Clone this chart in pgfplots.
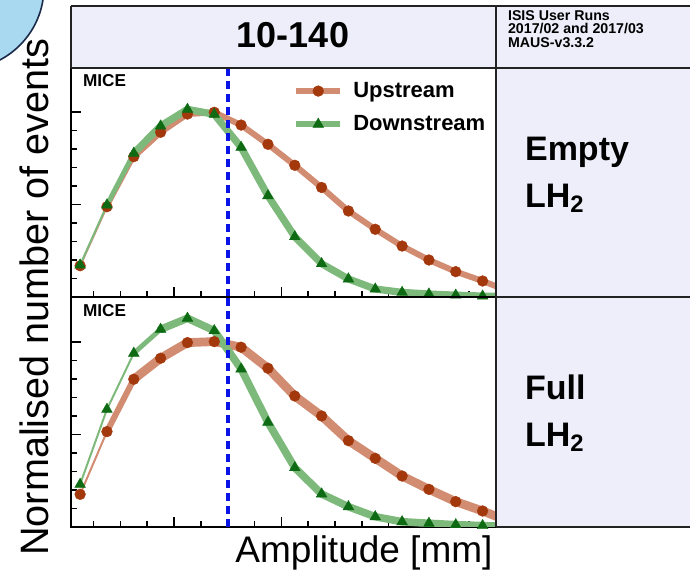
\documentclass[border=0pt]{standalone}
\usepackage{pgfplots}
\pgfplotsset{compat=1.18}
\usepackage{fontspec}
\setmainfont{Liberation Sans}
\definecolor{BandU}{HTML}{D28C72}
\definecolor{MarkU}{HTML}{A3380C}
\definecolor{BandD}{HTML}{7DB97B}
\definecolor{MarkD}{HTML}{0E6B14}
\definecolor{Lav}{HTML}{EEEEFB}
\definecolor{Frame}{HTML}{222222}
\definecolor{CutBlue}{HTML}{0A14E6}
\definecolor{LogoFill}{HTML}{A9D8F1}
\definecolor{LogoLine}{HTML}{1B2A48}

% amplitude bins (mm), bin centres; last point lies past the axis edge
\pgfplotstableread{
x     uE     dE     uF     dF
2.5   0.338  0.346  0.353  0.461
7.5   0.976  0.995  1.031  1.272
12.5  1.517  1.554  1.597  1.878
17.5  1.781  1.849  1.824  2.137
22.5  1.978  2.029  1.993  2.256
27.5  1.997  1.975  2.004  2.122
32.5  1.859  1.618  1.943  1.708
37.5  1.651  1.095  1.716  1.132
42.5  1.424  0.652  1.416  0.641
47.5  1.184  0.360  1.200  0.357
52.5  0.930  0.195  0.933  0.219
57.5  0.732  0.086  0.742  0.111
62.5  0.551  0.050  0.551  0.057
67.5  0.400  0.032  0.407  0.040
72.5  0.274  0.020  0.274  0.025
77.5  0.173  0.010  0.173  0.015
82.5  0.060  0.005  0.060  0.005
}\amp

\pgfplotsset{
  panel/.style={
    scale only axis, width=212.5pt,
    xmin=0.8, xmax=80, ymin=0,
    xtick={0,20,...,80}, minor x tick num=3,
    ytick={0,1,2}, minor y tick num=4,
    xticklabels={}, yticklabels={},
    tick pos=left, tick align=inside,
    major tick length=5pt, minor tick length=3pt,
    every tick/.style={black, line width=0.8pt},
    axis line style={black, line width=1.1pt},
  },
  bu/.style={BandU, line width=#1, line join=round, line cap=round, forget plot},
  bd/.style={BandD, line width=#1, line join=round, line cap=round, forget plot},
  mu/.style={only marks, mark=*, mark size=2.7pt, mark options={fill=MarkU, draw=MarkU, line width=0.2pt}},
  md/.style={only marks, mark=triangle*, mark size=3.1pt, mark options={fill=MarkD, draw=MarkD, line width=0.2pt}},
}

\begin{document}
\begin{tikzpicture}
\useasboundingbox (0,0) rectangle (345pt,288.5pt);
% pixel-style frame: 1px = 0.5pt, y measured down from the top
\begin{scope}[x=0.5pt,y=-0.5pt,shift={(0,288.5pt)}]
\begin{scope}
  \clip (0,0) rectangle (690,577);
  \fill[Lav] (71,6) rectangle (700,68);
  \fill[Lav] (496,68) rectangle (700,527);
  \draw[LogoLine, fill=LogoFill, line width=0.8pt] (-38.6,-13.1) circle[radius=41.3pt];
\end{scope}
\end{scope}

% ---- empty absorber
\begin{axis}[panel, at={(35.5pt,140pt)}, anchor=south west, height=114.5pt, ymax=2.476,
  legend style={draw=none, fill=none, at={(0.522,0.958)}, anchor=north west,
    font=\fontsize{11}{13}\selectfont\bfseries, row sep=3.5pt, inner sep=0pt},
  legend cell align=left,
  legend image code/.code={\draw[mark repeat=2,mark phase=2,#1] plot coordinates {(0pt,0pt) (11pt,0pt) (22pt,0pt)};}]
\addplot[bu=1pt] table[x=x,y=uE] {\amp};
\addplot[bu=2.2pt] table[x=x,y=uE,skip coords between index={0}{1}] {\amp};
\addplot[bu=3pt] table[x=x,y=uE,skip coords between index={0}{2}] {\amp};
\addplot[bd=1pt] table[x=x,y=dE,skip coords between index={2}{17}] {\amp};
\addplot[bd=2.4pt] table[x=x,y=dE,skip coords between index={0}{1}] {\amp};
\addplot[bd=3.6pt] table[x=x,y=dE,skip coords between index={0}{2}] {\amp};
\addplot[mu, forget plot] table[x=x,y=uE] {\amp};
\addplot[md, forget plot] table[x=x,y=dE] {\amp};
\addplot[CutBlue, line width=2pt, dash pattern=on 4pt off 2.5pt, forget plot] coordinates {(30,0) (30,2.476)};
\addlegendimage{BandU, line width=3pt, mark=*, mark size=2.7pt, mark options={fill=MarkU, draw=MarkU, line width=0.2pt}}
\addlegendentry{\hspace{3pt}Upstream}
\addlegendimage{BandD, line width=3pt, mark=triangle*, mark size=3.1pt, mark options={fill=MarkD, draw=MarkD, line width=0.2pt}}
\addlegendentry{\hspace{3pt}Downstream}
\end{axis}

% ---- full absorber
\begin{axis}[panel, at={(35.5pt,25pt)}, anchor=south west, height=115pt, ymax=2.486]
\addplot[bu=1pt] table[x=x,y=uF,skip coords between index={2}{17}] {\amp};
\addplot[bu=3pt] table[x=x,y=uF,skip coords between index={0}{1}] {\amp};
\addplot[bu=4.4pt] table[x=x,y=uF,skip coords between index={0}{2}] {\amp};
\addplot[bu=3.2pt] table[x=x,y=uF,skip coords between index={0}{6}] {\amp};
\addplot[bd=1pt] table[x=x,y=dF,skip coords between index={3}{17}] {\amp};
\addplot[bd=2.4pt] table[x=x,y=dF,skip coords between index={0}{2}] {\amp};
\addplot[bd=3.8pt] table[x=x,y=dF,skip coords between index={0}{3}] {\amp};
\addplot[mu] table[x=x,y=uF] {\amp};
\addplot[md] table[x=x,y=dF] {\amp};
\addplot[CutBlue, line width=2pt, dash pattern=on 4pt off 2.5pt] coordinates {(30,0) (30,2.486)};
\end{axis}

\begin{scope}[x=0.5pt,y=-0.5pt,shift={(0,288.5pt)}]
% ---- frame
\begin{scope}[Frame, line width=1pt]
  \draw (71,6) -- (700,6);
  \draw (71,68) -- (700,68);
  \draw (71,6) -- (71,68);
  \draw (496,6) -- (496,527);
  \draw (496,297) -- (700,297);
  \draw (496,527) -- (700,527);
\end{scope}

% ---- text
\node[font=\fontsize{18}{20}\selectfont\bfseries] at (293,35) {10-140};
\node[anchor=west, align=left, font=\fontsize{7.1}{6.9}\selectfont\bfseries] at (501,29)
  {ISIS User Runs\\2017/02 and 2017/03\\MAUS-v3.3.2};
\node[anchor=west, font=\fontsize{8.6}{10}\selectfont\bfseries] at (76,81) {MICE};
\node[anchor=west, font=\fontsize{8.6}{10}\selectfont\bfseries] at (76,311) {MICE};
\node[anchor=west, align=left, font=\fontsize{17}{23.5}\selectfont\bfseries] at (518,175)
  {Empty\\LH\textsubscript{2}};
\node[anchor=west, align=left, font=\fontsize{17}{23.5}\selectfont\bfseries] at (518,413)
  {Full\\LH\textsubscript{2}};
\node[font=\fontsize{18.5}{22}\selectfont] at (364,553) {Amplitude [mm]};
\node[rotate=90, font=\fontsize{19.8}{22}\selectfont] at (34,297) {Normalised number of events};
\end{scope}
\end{tikzpicture}
\end{document}
